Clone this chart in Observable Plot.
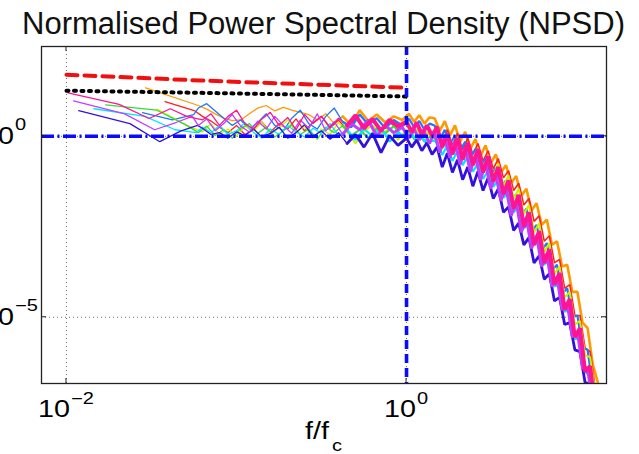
<!DOCTYPE html>
<html><head><meta charset="utf-8">
<script src="https://cdn.jsdelivr.net/npm/d3@7"></script>
<script src="https://cdn.jsdelivr.net/npm/@observablehq/plot@0.6"></script>
<style>body{margin:0;background:#fff}</style>
</head><body><div id="chart"></div>
<script>
// Frequency grids (f/fc) shared by the spectra above their first few FFT bins
const gridA = [0.0631,0.0708,0.0794,0.0891,0.100,0.112,0.126,0.141,0.158,0.178,
 0.200,0.224,0.251,0.282,0.316,0.355,0.398,0.447,0.501,0.562,
 0.631,0.708,0.794,0.891,1.000,1.072,1.148,1.230,1.318,1.413,
 1.514,1.622,1.738,1.862,1.995,2.138,2.291,2.455,2.630,2.818,
 3.020,3.236,3.467,3.715,3.981,4.266,4.571,4.898,5.248,5.623,
 6.026,6.457,6.918,7.413,7.943,8.511,9.120,9.772,10.47,11.22,
 12.02,12.88,13.80];
const gridB = [0.0596,0.0668,0.0750,0.0841,0.0944,0.1059,0.1189,0.1334,0.1496,0.1679,
 0.1884,0.2113,0.2371,0.2661,0.2985,0.3350,0.3758,0.4217,0.4732,0.5309,
 0.5957,0.6683,0.7499,0.8414,0.9441,1.035,1.109,1.189,1.274,1.365,
 1.462,1.567,1.679,1.799,1.928,2.065,2.213,2.371,2.541,2.723,
 2.917,3.126,3.350,3.589,3.846,4.121,4.416,4.732,5.070,5.433,
 5.821,6.237,6.683,7.161,7.674,8.222,8.810,9.441,10.12,10.84,
 11.61,12.45,13.34];

// Spectra: log10(NPSD) values
const pinkLowF = [0.0102,0.0204,0.0306,0.0408,0.051];
const pinkLowLogP = [1.20,0.88,0.49,0.76,0.55];
const pinkHighLogP = [0.45,0.62,0.30,0.55,0.72,0.35,0.20,0.48,0.66,0.30,
 0.52,0.18,0.60,0.35,0.55,0.25,0.50,0.30,0.58,0.22,
 0.48,0.15,0.45,0.28,0.40,0.12,0.38,0.05,0.30,0.02,
 0.25,-0.30,0.08,-0.50,-0.05,-0.65,-0.18,-0.80,-0.35,-1.00,
 -0.55,-1.25,-0.85,-1.60,-1.22,-2.00,-1.62,-2.50,-2.10,-3.00,
 -2.62,-3.50,-3.12,-4.10,-3.78,-4.80,-4.50,-5.55,-5.30,-6.50,
 -6.35,-7.60,-7.90];

const darkBlueLowF = [0.0118,0.0236,0.0354,0.0472,0.059];
const darkBlueLowLogP = [0.71,0.35,-0.15,0.15,0.30];
const darkBlueHighLogP = [0.22,0.05,0.10,-0.05,0.12,0.02,0.20,-0.02,0.08,0.25,
 -0.05,0.10,0.32,0.00,0.15,-0.08,0.10,-0.20,0.05,-0.30,
 0.08,-0.45,0.02,-0.25,-0.05,-0.30,-0.10,-0.40,-0.18,-0.50,
 -0.30,-0.85,-0.47,-1.00,-0.65,-1.20,-0.85,-1.38,-0.97,-1.50,
 -1.15,-1.72,-1.45,-2.10,-1.95,-2.60,-2.40,-3.00,-2.80,-3.50,
 -3.30,-3.95,-3.80,-4.55,-4.45,-5.20,-5.15,-5.90,-5.95,-6.80,
 -6.85,-7.70,-8.00];

const cyanLowF = [0.0145,0.029,0.0435,0.058];
const cyanLowLogP = [0.76,0.55,0.18,0.10];
const cyanHighLogP = [0.25,0.10,0.30,0.05,0.15,0.38,0.10,-0.05,0.20,0.05,
 0.30,0.12,-0.02,0.22,0.08,0.35,0.02,0.18,-0.10,0.20,
 0.00,0.25,-0.15,0.10,-0.05,0.08,-0.12,-0.02,-0.20,-0.12,
 -0.15,-0.52,-0.25,-0.68,-0.40,-0.80,-0.55,-0.98,-0.75,-1.18,
 -0.95,-1.40,-1.20,-1.70,-1.55,-2.10,-1.95,-2.55,-2.40,-3.00,
 -2.90,-3.55,-3.40,-4.15,-4.10,-4.85,-4.80,-5.60,-5.60,-6.50,
 -6.65,-7.60,-8.00];

const yellowLowF = [0.034,0.051];
const yellowLowLogP = [0.75,0.30];
const yellowHighLogP = [0.12,0.35,0.05,0.20,0.00,0.28,0.15,0.40,0.05,0.22,
 0.45,0.10,0.28,-0.05,0.20,0.05,0.38,0.12,-0.20,0.15,
 0.30,0.05,0.22,-0.10,0.18,0.02,0.20,-0.05,0.12,-0.08,
 0.10,-0.35,0.02,-0.45,-0.08,-0.55,-0.18,-0.68,-0.32,-0.88,
 -0.52,-1.10,-0.75,-1.38,-1.08,-1.72,-1.45,-2.15,-1.90,-2.65,
 -2.40,-3.20,-2.95,-3.80,-3.60,-4.45,-4.30,-5.20,-5.10,-6.05,
 -6.10,-7.10,-7.50];

const redLowF = [0.038,0.057];
const redLowLogP = [0.96,0.70];
const redHighLogP = [0.55,0.42,0.25,0.10,0.30,0.05,0.18,0.40,0.12,0.35,
 0.20,0.48,0.15,0.38,0.55,0.22,0.45,0.18,0.50,0.25,
 0.42,0.18,0.40,0.20,0.35,0.15,0.32,0.12,0.28,0.08,
 0.28,-0.15,0.18,-0.25,0.08,-0.38,-0.05,-0.50,-0.20,-0.68,
 -0.40,-0.90,-0.62,-1.15,-0.95,-1.50,-1.30,-1.90,-1.72,-2.35,
 -2.20,-2.90,-2.75,-3.50,-3.40,-4.20,-4.10,-4.95,-4.95,-5.85,
 -5.95,-6.95,-7.25];

const violetLowF = [0.011,0.022,0.033,0.044,0.055];
const violetLowLogP = [0.98,0.62,0.18,0.38,0.55];
const violetHighLogP = [0.30,0.48,0.15,0.35,0.60,0.28,0.12,0.42,0.20,0.55,
 0.30,0.08,0.45,0.22,0.62,0.15,0.40,0.05,0.35,0.18,
 0.45,0.00,0.30,0.10,0.25,-0.05,0.20,-0.10,0.10,-0.20,
 0.12,-0.45,0.00,-0.60,-0.15,-0.78,-0.32,-0.98,-0.52,-1.20,
 -0.75,-1.45,-1.05,-1.78,-1.40,-2.20,-1.80,-2.65,-2.25,-3.10,
 -2.75,-3.60,-3.25,-4.15,-3.90,-4.80,-4.60,-5.55,-5.40,-6.40,
 -6.40,-7.45,-7.80];

const greenLowF = [0.017,0.034,0.051];
const greenLowLogP = [0.87,0.72,0.30];
const greenHighLogP = [0.10,0.28,0.02,0.18,-0.05,0.22,0.35,0.08,0.25,-0.02,
 0.15,0.32,0.05,0.20,-0.08,0.25,0.10,0.30,0.02,0.18,
 -0.05,0.22,0.08,0.28,0.00,0.15,-0.08,0.05,-0.15,-0.02,
 -0.05,-0.45,-0.15,-0.58,-0.28,-0.72,-0.42,-0.90,-0.62,-1.10,
 -0.82,-1.35,-1.10,-1.65,-1.42,-2.05,-1.80,-2.45,-2.25,-2.95,
 -2.75,-3.45,-3.25,-4.05,-3.90,-4.70,-4.60,-5.45,-5.40,-6.35,
 -6.40,-7.40,-7.70];

const orangeLowF = [0.0292];
const orangeLowLogP = [1.34];
const orangeHighLogP = [0.85,0.75,0.62,0.50,0.43,0.45,0.62,0.78,0.85,0.70,
 0.80,0.72,0.66,0.60,0.45,0.62,0.35,0.55,0.30,0.72,
 0.42,0.60,0.38,0.55,0.45,0.62,0.40,0.58,0.35,0.52,
 0.50,0.15,0.42,0.02,0.30,-0.15,0.12,-0.35,-0.08,-0.55,
 -0.25,-0.75,-0.50,-1.00,-0.80,-1.30,-1.10,-1.65,-1.45,-2.05,
 -1.85,-2.45,-2.30,-3.00,-2.90,-3.60,-3.55,-4.30,-4.30,-5.15,
 -5.30,-6.30,-6.80];

const dodgerLowF = [0.028,0.042,0.056];
const dodgerLowLogP = [0.65,0.45,0.60];
const dodgerHighLogP = [0.78,0.90,0.70,0.50,0.30,0.45,0.20,0.38,0.62,0.30,
 0.15,0.50,0.72,0.35,0.20,0.55,0.78,0.40,0.25,0.60,
 0.32,0.50,0.22,0.45,0.30,0.48,0.25,0.42,0.18,0.35,
 0.30,-0.10,0.18,-0.22,0.02,-0.40,-0.15,-0.60,-0.35,-0.82,
 -0.60,-1.08,-0.88,-1.40,-1.22,-1.78,-1.60,-2.20,-2.00,-2.65,
 -2.45,-3.15,-2.95,-3.70,-3.55,-4.35,-4.20,-5.00,-4.95,-5.85,
 -5.90,-6.90,-7.20];

// Reference model curves
const modelF = [0.01, 0.0616, 1];
const redModelLogP = [1.70, 1.54, 1.34];
const blackModelLogP = [1.26, 1.20, 1.10];

// Axis ticks
const xTicks = [0.01, 1];
const xTickExp = ["\u22122", "0"];
const yTicks = [1, 1e-5];
const yTickExp = ["0", "\u22125"];

const titleText = "Normalised Power Spectral Density (NPSD)";

const series = [
  {color:"#ff9900", lowF:orangeLowF, lowP:orangeLowLogP, grid:gridB, highP:orangeHighLogP, w:2.6},
  {color:"#ff2020", lowF:redLowF, lowP:redLowLogP, grid:gridA, highP:redHighLogP, w:1.6},
  {color:"#1e78ff", lowF:dodgerLowF, lowP:dodgerLowLogP, grid:gridB, highP:dodgerHighLogP, w:2.2},
  {color:"#c8f000", lowF:yellowLowF, lowP:yellowLowLogP, grid:gridA, highP:yellowHighLogP, w:2.0},
  {color:"#33dd33", lowF:greenLowF, lowP:greenLowLogP, grid:gridB, highP:greenHighLogP, w:2.0},
  {color:"#00e5ff", lowF:cyanLowF, lowP:cyanLowLogP, grid:gridA, highP:cyanHighLogP, w:2.2},
  {color:"#3311dd", lowF:darkBlueLowF, lowP:darkBlueLowLogP, grid:gridA, highP:darkBlueHighLogP, w:2.8},
  {color:"#bf3fff", lowF:violetLowF, lowP:violetLowLogP, grid:gridB, highP:violetHighLogP, w:3.0},
  {color:"#ff1493", lowF:pinkLowF, lowP:pinkLowLogP, grid:gridA, highP:pinkHighLogP, w:4.0}
];
const rowsOf = s => s.lowF.map((f,i)=>({f, p:10**s.lowP[i]}))
  .concat(s.grid.map((f,i)=>({f, p:10**s.highP[i]})));
// sparse low-frequency part drawn thin, dense high-frequency part drawn thick
const denseFrom = 0.42;
const lowPart = s => rowsOf(s).filter(d => d.f <= denseFrom * 1.13);
const highPart = s => rowsOf(s).filter(d => d.f >= denseFrom);

const redModel = modelF.map((f,i)=>({f, p:10**redModelLogP[i]}));
const blackModel = modelF.map((f,i)=>({f, p:10**blackModelLogP[i]}));

const chart = Plot.plot({
  width: 639, height: 454,
  marginLeft: 41, marginRight: 33, marginTop: 46, marginBottom: 71,
  style: {fontFamily: "'Liberation Sans', Arial, sans-serif", background: "#fff"},
  x: {type: "log", domain: [0.00713, 15], axis: null},
  y: {type: "log", domain: [10**-6.83, 10**2.48], axis: null},
  marks: [
    Plot.ruleX(xTicks, {stroke: "#444", strokeWidth: 0.8, strokeDasharray: "1,3"}),
    Plot.ruleY(yTicks, {stroke: "#444", strokeWidth: 0.8, strokeDasharray: "1,3"}),
    ...series.map(s => Plot.line(lowPart(s), {x: "f", y: "p", stroke: s.color, strokeWidth: 1.3, clip: true})),
    ...series.map(s => Plot.line(highPart(s), {x: "f", y: "p", stroke: s.color, strokeWidth: s.w, strokeLinejoin: "miter", clip: true})),
    Plot.line(redModel, {x: "f", y: "p", stroke: "#f01010", strokeWidth: 4, strokeDasharray: "11,7"}),
    Plot.line(blackModel, {x: "f", y: "p", stroke: "#000", strokeWidth: 4, strokeDasharray: "2,5.5"}),
    Plot.ruleY([1], {stroke: "#0a0aff", strokeWidth: 3.3, strokeDasharray: "13,3.5,2,3.5"}),
    Plot.ruleX([1], {stroke: "#0a0aff", strokeWidth: 3.6, strokeDasharray: "9,5"}),
    Plot.frame({stroke: "#222", strokeWidth: 1.3})
  ]
});
document.getElementById("chart").appendChild(chart);

const sx = chart.scale("x"), sy = chart.scale("y");
const [x0, x1] = sx.range, [yb, yt] = sy.range;
const svg = d3.select(chart);
const g = svg.append("g").attr("fill", "#000")
  .style("font-family", "'Liberation Sans', Arial, sans-serif");

// inward ticks on all four sides
xTicks.forEach(v => {
  const x = sx.apply(v);
  g.append("line").attr("x1", x).attr("x2", x).attr("y1", yb).attr("y2", yb - 5).attr("stroke", "#222");
  g.append("line").attr("x1", x).attr("x2", x).attr("y1", yt).attr("y2", yt + 5).attr("stroke", "#222");
});
yTicks.forEach(v => {
  const y = sy.apply(v);
  g.append("line").attr("x1", x0).attr("x2", x0 + 5).attr("y1", y).attr("y2", y).attr("stroke", "#222");
  g.append("line").attr("x1", x1).attr("x2", x1 - 5).attr("y1", y).attr("y2", y).attr("stroke", "#222");
});

function stretched(x, y, text, size, factor, anchor) {
  const t = g.append("text").attr("x", x).attr("y", y).attr("font-size", size)
    .attr("text-anchor", anchor || "start").text(text);
  const w = t.node().getComputedTextLength();
  t.attr("textLength", w * factor).attr("lengthAdjust", "spacingAndGlyphs");
  return w * factor;
}
const baseSize = 23, supSize = 16, stretch = 1.25;

// x tick labels: 10^e centred under the tick
xTicks.forEach((v, i) => {
  const x = sx.apply(v);
  const tmp = g.append("text").attr("font-size", baseSize).text("10");
  const wb = tmp.node().getComputedTextLength() * stretch; tmp.remove();
  const tmp2 = g.append("text").attr("font-size", supSize).text(xTickExp[i]);
  const we = tmp2.node().getComputedTextLength() * stretch; tmp2.remove();
  const left = x - (wb + 1 + we) / 2;
  stretched(left, yb + 34, "10", baseSize, stretch);
  stretched(left + wb + 1, yb + 20.5, xTickExp[i], supSize, stretch);
});
// y tick labels: base "10" right-aligned, exponent to its right
yTicks.forEach((v, i) => {
  const y = sy.apply(v);
  stretched(14, y + 8, "10", baseSize, stretch, "end");
  stretched(15, y - 5.5, yTickExp[i], supSize, stretch);
});

// x axis label f/f_c
{
  const cx = (x0 + x1) / 2;
  const tmp = g.append("text").attr("font-size", baseSize).text("f/f");
  const wb = tmp.node().getComputedTextLength() * stretch; tmp.remove();
  const left = cx - (wb + 3 + 10) / 2;
  stretched(left, yb + 56, "f/f", baseSize, stretch);
  stretched(left + wb + 3, yb + 68, "c", supSize, stretch);
}
// title
g.append("text").attr("x", (x0 + x1) / 2).attr("y", 34).attr("font-size", 31)
  .attr("text-anchor", "middle").attr("fill", "#111").text(titleText);
</script>
</body></html>
